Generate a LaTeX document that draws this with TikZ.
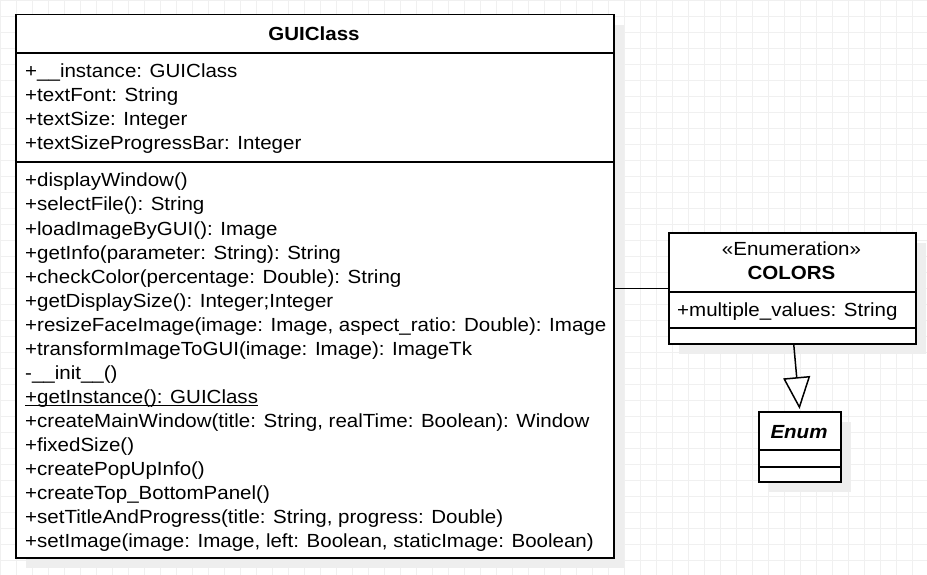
\documentclass[tikz,border=0pt]{standalone}
\usepackage{fontspec}
\setmainfont{Liberation Sans}[FakeStretch=1.08]
\usetikzlibrary{arrows.meta}
\definecolor{gridc}{HTML}{F0F0F0}
\definecolor{shadowc}{HTML}{EEEEEE}
\begin{document}
\begin{tikzpicture}[x=1pt,y=-1pt,
  box/.style={draw=black, line width=1.5pt, fill=white, inner sep=0pt, anchor=north west},
  sepline/.style={line width=1.5pt},
  txt/.style={anchor=base west, inner sep=0pt, font=\fontsize{19pt}{24pt}\selectfont},
  ctr/.style={anchor=base, inner sep=0pt, font=\fontsize{19pt}{24pt}\selectfont},
  conn/.style={line width=1.5pt}]
\useasboundingbox (0,0) rectangle (927,575);
\fill[white] (0,0) rectangle (927,575);
\begin{scope}
\clip (0,0) rectangle (927,575);
\foreach \i in {0,...,58} \draw[gridc, line width=1pt] (0.5+16*\i,0) -- (0.5+16*\i,575);
\foreach \i in {0,...,36} \draw[gridc, line width=1pt] (0,0.5+16*\i) -- (927,0.5+16*\i);
\end{scope}
% shadows
\fill[shadowc] (26,25) rectangle (624,568);
\fill[shadowc] (679,243) rectangle (926,354);
\fill[shadowc] (769,422) rectangle (851,492);
% GUIClass
\node[box, minimum width=598pt, minimum height=543pt] (gui) at (15,14) {};
\draw[sepline] ([yshift=-39pt]gui.north west) -- ([yshift=-39pt]gui.north east);
\draw[sepline] ([yshift=-148pt]gui.north west) -- ([yshift=-148pt]gui.north east);
\node[ctr, font=\fontsize{19pt}{24pt}\selectfont\bfseries] (guititle) at (314,41) {GUIClass};
\node[txt] (a1) at (25,78) {+\_\_instance: GUIClass};
\node[txt] (a2) at (25,102) {+textFont: String};
\node[txt] (a3) at (25,126) {+textSize: Integer};
\node[txt] (a4) at (25,150) {+textSizeProgressBar: Integer};
\node[txt] (m1) at (25,187) {+displayWindow()};
\node[txt] (m2) at (25,211) {+selectFile(): String};
\node[txt] (m3) at (25,235) {+loadImageByGUI(): Image};
\node[txt] (m4) at (25,259) {+getInfo(parameter: String): String};
\node[txt] (m5) at (25,283) {+checkColor(percentage: Double): String};
\node[txt] (m6) at (25,307) {+getDisplaySize(): Integer;Integer};
\node[txt] (m7) at (25,331) {+resizeFaceImage(image: Image, aspect\_ratio: Double): Image};
\node[txt] (m8) at (25,355) {+transformImageToGUI(image: Image): ImageTk};
\node[txt] (m9) at (25,379) {-\_\_init\_\_()};
\node[txt] (m10) at (25,403) {+getInstance(): GUIClass};
\draw[line width=1pt] ([yshift=-2.5pt]m10.base west) -- ([yshift=-2.5pt]m10.base east);
\node[txt] (m11) at (25,427) {+createMainWindow(title: String, realTime: Boolean): Window};
\node[txt] (m12) at (25,451) {+fixedSize()};
\node[txt] (m13) at (25,475) {+createPopUpInfo()};
\node[txt] (m14) at (25,499) {+createTop\_BottomPanel()};
\node[txt] (m15) at (25,523) {+setTitleAndProgress(title: String, progress: Double)};
\node[txt] (m16) at (25,547) {+setImage(image: Image, left: Boolean, staticImage: Boolean)};
% COLORS
\node[box, minimum width=247pt, minimum height=111pt] (colors) at (668,232) {};
\draw[sepline] ([yshift=-60pt]colors.north west) -- ([yshift=-60pt]colors.north east);
\draw[sepline] ([yshift=-96pt]colors.north west) -- ([yshift=-96pt]colors.north east);
\node[ctr] (stereo) at (791.5,255) {«Enumeration»};
\node[ctr, font=\fontsize{19pt}{24pt}\selectfont\bfseries] (colorsname) at (791.5,279) {COLORS};
\node[txt] (c1) at (677,316) {+multiple\_values: String};
% Enum
\node[box, minimum width=82pt, minimum height=70pt] (enum) at (758,411) {};
\draw[sepline] ([yshift=-39pt]enum.north west) -- ([yshift=-39pt]enum.north east);
\draw[sepline] ([yshift=-56pt]enum.north west) -- ([yshift=-56pt]enum.north east);
\node[ctr, font=\fontsize{19pt}{24pt}\selectfont\bfseries\itshape] (enumname) at (799,438) {Enum};
% connectors
\draw[conn] (colors.west) -- (colors.west -| gui.east);
\draw[conn, shorten >=2pt, -{Triangle[open, length=32pt, width=27pt, fill=white]}] ([xshift=1.5pt]colors.south) -- (enum.north);
\end{tikzpicture}
\end{document}
